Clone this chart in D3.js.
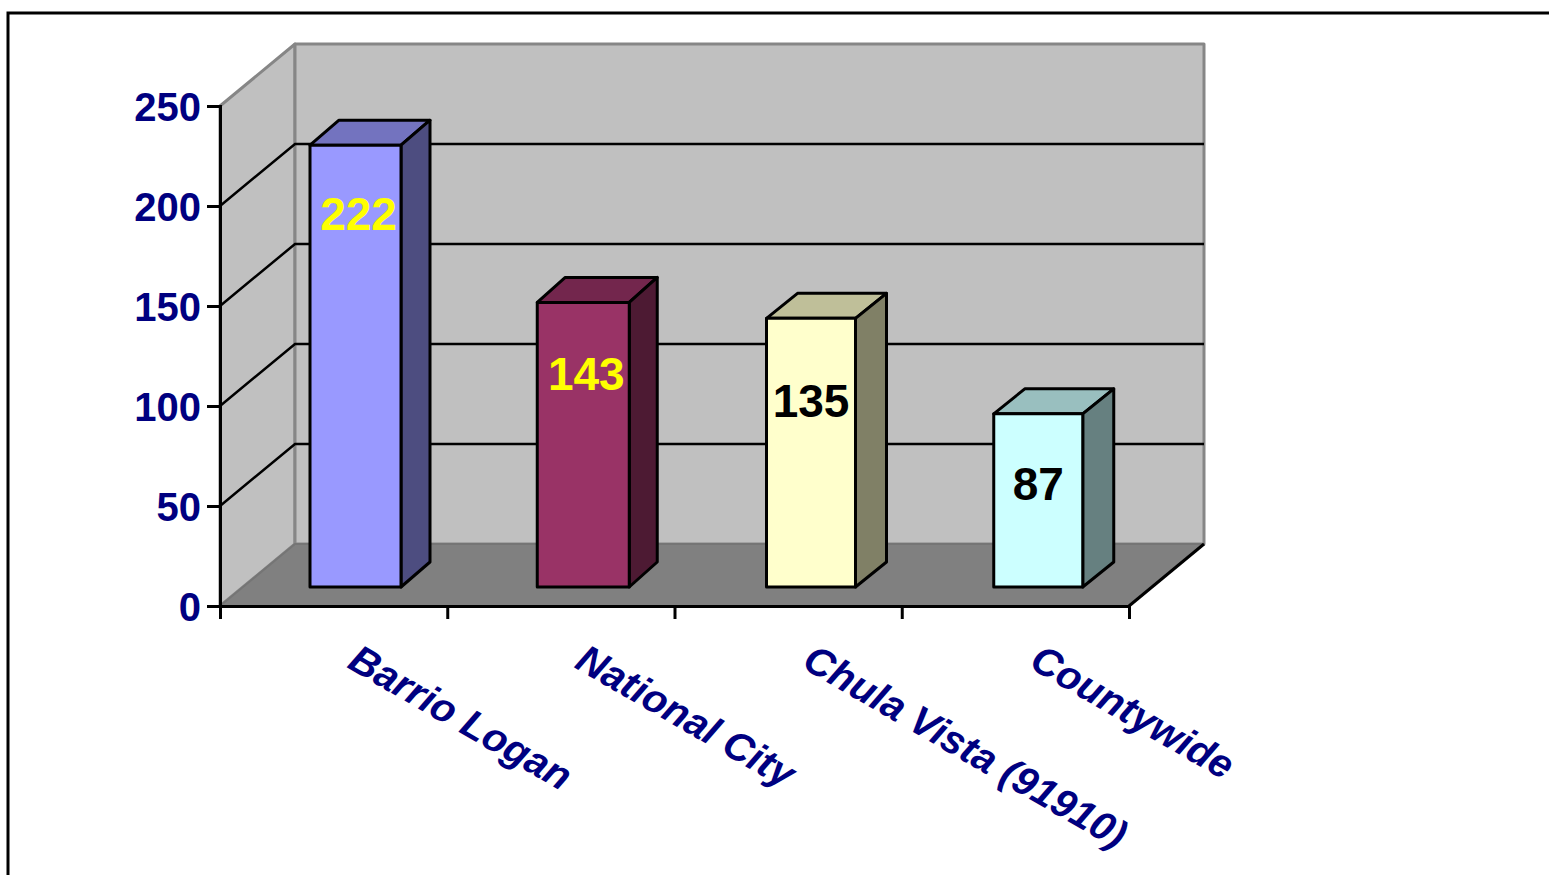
<!DOCTYPE html>
<html>
<head>
<meta charset="utf-8">
<script src="https://cdn.jsdelivr.net/npm/d3@7"></script>
<style>
  html, body { margin: 0; background: #fff; overflow: hidden; }
  text { font-family: "Liberation Sans", Arial, sans-serif; }
</style>
</head>
<body>
<div class="chart"></div>
<script>
// data
const categories = ["Barrio Logan", "National City", "Chula Vista (91910)", "Countywide"];
const values = [222, 143, 135, 87];
const yTicks = [0, 50, 100, 150, 200, 250];
const frontColors = ["#9999ff", "#993366", "#ffffcc", "#ccffff"];
const topColors = ["#7373bf", "#73264d", "#bfbf99", "#99bfbf"];
const sideColors = ["#4d4d80", "#4d1a33", "#808066", "#668080"];
const labelColors = ["#ffff00", "#ffff00", "#000000", "#000000"];

const width = 1549, height = 875;
const navy = "#000080";

// front plane of the fake 3d box
const plot = { left: 220, right: 1129, top: 106, bottom: 606 };
const depth = { x: 75, y: -62 };
const barLift = 19, barShrink = 0.995;
// bars do not sit quite evenly in their bands in the original
const barInset = [90, 90, 92, 92];
const barWidth = [91, 92, 89, 89];
const barDepthX = [29, 28, 31, 31];
const barDepthY = -25;
const labelNudge = [{ x: 3, y: 85 }, { x: 3, y: 88 }, { x: 0, y: 99 }, { x: 0, y: 86 }];

const svg = d3.select(".chart").append("svg")
  .attr("width", width)
  .attr("height", height)
  .style("display", "block");

// outer frame, runs off the right and bottom of the page
svg.append("path")
  .attr("d", `M8,${height + 5}V13H${width + 5}`)
  .attr("fill", "none")
  .attr("stroke", "#000")
  .attr("stroke-width", 3);

const x = d3.scaleBand().domain(categories).range([plot.left, plot.right]);
const y = d3.scaleLinear().domain([0, 250]).range([plot.bottom, plot.top]);
const line = d3.line();

const poly = (pts, fill, stroke, sw) => svg.append("path")
  .attr("d", line(pts) + "Z")
  .attr("fill", fill)
  .attr("stroke", stroke)
  .attr("stroke-width", sw)
  .attr("stroke-linejoin", "round");

const back = (px, py) => [px + depth.x, py + depth.y];
const barTop = v => y(0) - barLift - (y(0) - y(v)) * barShrink;

// walls and floor
poly([[plot.left, plot.top], back(plot.left, plot.top), back(plot.left, plot.bottom), [plot.left, plot.bottom]], "#c0c0c0", "#868686", 3);
poly([back(plot.left, plot.top), back(plot.right, plot.top), back(plot.right, plot.bottom), back(plot.left, plot.bottom)], "#c0c0c0", "#868686", 3);
poly([[plot.left, plot.bottom], back(plot.left, plot.bottom), back(plot.right, plot.bottom), [plot.right, plot.bottom]], "#808080", "#757575", 2);

// gridlines on side wall and back wall
svg.append("g").selectAll("path")
  .data(yTicks.filter(d => d > 0 && d < 250))
  .join("path")
  .attr("d", d => line([[plot.left, y(d)], back(plot.left, y(d)), back(plot.right, y(d))]))
  .attr("fill", "none")
  .attr("stroke", "#000")
  .attr("stroke-width", 2.5);

// right floor edge
svg.append("path")
  .attr("d", line([[plot.right, plot.bottom], back(plot.right, plot.bottom)]))
  .attr("stroke", "#000")
  .attr("stroke-width", 3);

// bars
values.forEach((v, i) => {
  const x0 = x(categories[i]) + barInset[i];
  const x1 = x0 + barWidth[i];
  const base = y(0) - barLift;
  const top = barTop(v);
  const dx = barDepthX[i], dy = barDepthY;

  poly([[x0, top], [x0 + dx, top + dy], [x1 + dx, top + dy], [x1, top]], topColors[i], "#000", 3);
  poly([[x1, top], [x1 + dx, top + dy], [x1 + dx, base + dy], [x1, base]], sideColors[i], "#000", 3);
  poly([[x0, top], [x1, top], [x1, base], [x0, base]], frontColors[i], "#000", 3);
});

// value labels sit in the middle of the bar front
svg.append("g").selectAll("text")
  .data(values)
  .join("text")
  .attr("x", (d, i) => x(categories[i]) + barInset[i] + barWidth[i] / 2 + labelNudge[i].x)
  .attr("y", (d, i) => barTop(d) + labelNudge[i].y)
  .attr("text-anchor", "middle")
  .attr("font-size", 46)
  .attr("font-weight", 700)
  .attr("fill", (d, i) => labelColors[i])
  .text(d => d);

// axes
const yAxis = d3.axisLeft(y).tickValues(yTicks).tickSize(13).tickPadding(6);
const gy = svg.append("g")
  .attr("transform", `translate(${plot.left},0)`)
  .call(yAxis);

const xEdges = d3.scaleLinear().domain([0, categories.length]).range([plot.left, plot.right]);
const xAxis = d3.axisBottom(xEdges).tickValues(d3.range(categories.length + 1)).tickFormat("").tickSize(13);
const gx = svg.append("g")
  .attr("transform", `translate(0,${plot.bottom})`)
  .call(xAxis);

[gy, gx].forEach(g => {
  g.selectAll("path.domain").attr("stroke", "#000").attr("stroke-width", 3);
  g.selectAll("line").attr("stroke", "#000").attr("stroke-width", 3);
});
gy.selectAll("text")
  .attr("font-family", null)
  .attr("font-size", 40)
  .attr("font-weight", 700)
  .attr("fill", navy)
  .attr("y", 2);

// slanted category labels
svg.append("g").selectAll("text")
  .data(categories)
  .join("text")
  .attr("transform", d => `translate(${x(d) + 126},667) rotate(30)`)
  .attr("font-size", 40)
  .attr("font-weight", 700)
  .attr("font-style", "italic")
  .attr("fill", navy)
  .text(d => d);
</script>
</body>
</html>
